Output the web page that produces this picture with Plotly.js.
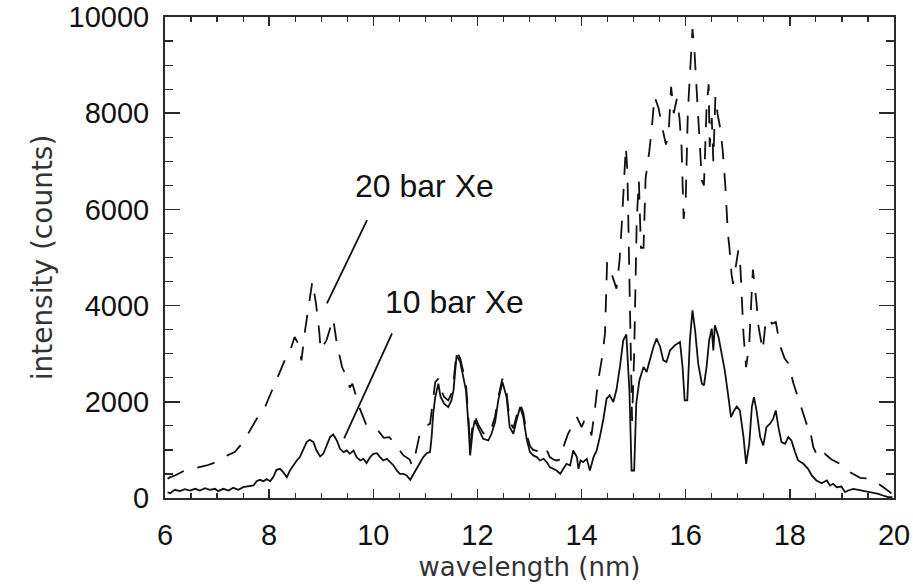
<!DOCTYPE html>
<html>
<head>
<meta charset="utf-8">
<script src="https://cdn.plot.ly/plotly-3.0.1.min.js"></script>
<style>html,body{margin:0;padding:0;background:#fff;}#chart{width:913px;height:585px;}</style>
</head>
<body>
<div id="chart"></div>
<script>
// 10 bar Xe (solid)
const wl10 = [6.05,6.10,6.19,6.29,6.38,6.48,6.58,6.67,6.77,6.86,6.96,7.02,7.12,7.22,7.31,7.41,7.50,7.60,7.70,7.76,7.82,7.89,7.95,8.02,8.08,8.14,8.21,8.27,8.34,8.40,8.46,8.53,8.59,8.66,8.72,8.78,8.85,8.91,8.98,9.04,9.11,9.17,9.23,9.30,9.36,9.43,9.49,9.55,9.62,9.68,9.75,9.81,9.87,9.94,10.00,10.07,10.13,10.19,10.26,10.32,10.39,10.45,10.51,10.58,10.64,10.71,10.77,10.83,10.90,10.96,11.03,11.09,11.12,11.15,11.19,11.22,11.25,11.29,11.36,11.44,11.50,11.54,11.60,11.67,11.73,11.78,11.83,11.86,11.91,11.95,12.02,12.11,12.21,12.27,12.34,12.40,12.48,12.56,12.62,12.69,12.75,12.82,12.88,12.95,13.01,13.07,13.14,13.20,13.27,13.33,13.39,13.46,13.52,13.59,13.65,13.71,13.78,13.84,13.91,13.94,13.98,14.03,14.10,14.16,14.23,14.29,14.35,14.42,14.48,14.54,14.61,14.67,14.74,14.80,14.86,14.89,14.92,14.96,15.01,15.05,15.11,15.19,15.25,15.31,15.38,15.44,15.51,15.57,15.63,15.70,15.79,15.89,15.94,15.98,16.03,16.08,16.13,16.18,16.24,16.31,16.35,16.40,16.45,16.50,16.53,16.56,16.63,16.69,16.75,16.82,16.87,16.93,16.98,17.04,17.11,17.16,17.22,17.27,17.31,17.36,17.43,17.49,17.55,17.62,17.68,17.73,17.78,17.84,17.91,17.97,18.03,18.10,18.16,18.26,18.35,18.42,18.51,18.61,18.71,18.77,18.83,18.90,18.99,19.06,19.12,19.22,19.32,19.41,19.51,19.60,19.70,19.79,19.89,19.97];
const int10 = [120,101,170,142,184,156,191,156,205,170,191,142,191,156,212,170,225,239,260,350,378,350,392,350,434,586,607,538,434,572,676,780,850,1023,1162,1210,1162,988,864,919,1127,1266,1321,1197,1023,954,988,919,988,850,780,815,725,850,919,933,850,780,815,746,676,572,503,503,468,378,489,607,746,850,933,954,1266,1752,2097,2237,2376,2112,1960,1890,2029,2237,2966,2827,2515,2237,1474,885,1405,1613,1440,1231,1197,1335,1578,2029,2411,2098,1474,1335,1613,1890,1682,1197,954,885,850,780,815,746,642,607,572,503,607,711,676,988,850,607,780,746,815,572,850,988,1266,1648,2063,2133,1994,2250,2750,3278,3400,2900,2200,572,572,1960,2445,2723,2620,2862,3140,3313,3140,2862,2827,3070,3174,3243,2723,2029,2029,3278,3902,3486,2792,2376,2341,2723,3278,3521,3070,3590,3347,3000,2653,2098,1682,1821,1900,1821,1266,711,1127,1890,2098,1821,1266,1093,1474,1544,1650,1821,1474,1162,1127,1266,1197,954,780,711,607,468,364,308,364,260,295,225,239,121,156,191,170,156,142,121,87,52,17,17];

// 20 bar Xe (dashed)
const wl20 = [6.05,6.10,6.19,6.29,6.38,6.80,6.93,7.12,7.34,7.50,7.73,7.82,7.92,8.11,8.21,8.30,8.37,8.49,8.56,8.62,8.69,8.75,8.83,8.90,8.96,8.99,9.10,9.23,9.30,9.40,9.49,9.55,9.60,9.73,9.87,10.09,10.20,10.31,10.58,10.70,10.74,10.77,10.90,10.96,11.03,11.09,11.15,11.19,11.25,11.30,11.36,11.44,11.50,11.54,11.60,11.67,11.73,11.78,11.83,11.86,11.91,11.95,12.02,12.11,12.21,12.27,12.34,12.40,12.48,12.56,12.62,12.69,12.75,12.82,12.88,12.95,13.01,13.07,13.14,13.20,13.27,13.33,13.39,13.46,13.52,13.59,13.65,13.74,13.81,13.91,14.00,14.05,14.13,14.19,14.26,14.32,14.39,14.45,14.49,14.58,14.67,14.73,14.77,14.81,14.85,14.88,14.93,14.97,15.01,15.06,15.10,15.14,15.19,15.23,15.30,15.35,15.40,15.48,15.55,15.62,15.67,15.72,15.77,15.83,15.88,15.92,15.96,16.00,16.04,16.09,16.13,16.17,16.21,16.26,16.31,16.35,16.40,16.44,16.46,16.50,16.53,16.57,16.61,16.66,16.71,16.76,16.81,16.84,16.88,16.91,16.95,17.01,17.05,17.08,17.11,17.16,17.22,17.26,17.29,17.36,17.40,17.48,17.54,17.60,17.66,17.73,17.81,17.90,17.97,18.07,18.15,18.21,18.32,18.36,18.45,18.55,18.67,18.80,18.96,19.05,19.19,19.35,19.54,19.65,19.75,19.86,19.95];
const int20 = [400,434,468,517,572,676,725,850,954,1162,1578,1752,1890,2376,2619,2862,2950,3347,3209,2862,3486,3937,4500,4040,3486,3070,3278,3729,3209,2723,2515,2300,2376,1890,1509,1405,1250,1266,885,800,680,711,1370,1440,1509,1544,2000,2410,2480,2250,2100,2030,2170,2400,3050,2900,2620,2380,1600,1050,1550,1700,1520,1350,1300,1450,1700,2100,2480,2180,1600,1450,1700,1950,1780,1300,1080,1000,980,950,1060,1000,850,800,780,800,1058,1335,1474,1682,1474,1600,1578,1300,1890,2445,2896,3417,4900,4650,4353,4943,5650,6365,7300,6800,4000,1600,3000,5800,6600,5200,5200,6650,7200,7700,8350,8100,7700,7350,7550,8550,8000,8300,7900,7300,5800,6200,8000,9100,9750,9250,8500,7300,6600,6500,8100,8600,7300,7900,7000,8350,8000,7700,7230,6500,5500,5200,4650,4450,4700,5150,4800,4200,3400,2720,3200,4100,4750,4050,3550,3070,3730,3700,3624,3659,3173,2900,2800,2380,2100,1890,1543,1560,1058,820,920,800,711,600,520,420,399,330,260,170,100];

const labels = ["20 bar Xe", "10 bar Xe"];
const xTickVals = [6, 8, 10, 12, 14, 16, 18, 20];
const yTickVals = [0, 2000, 4000, 6000, 8000, 10000];

const txt = '#111';
const axisCol = '#2a2a2a';
const tickFont = {family: 'Liberation Sans, Arial, sans-serif', size: 29, color: txt};
const titleFont = {family: 'DejaVu Sans, sans-serif', size: 26, color: '#333'};
const noteFont = {family: 'Liberation Sans, Arial, sans-serif', size: 32, color: txt};

const traces = [
  {x: wl20, y: int20, type: 'scatter', mode: 'lines', name: labels[0],
   line: {color: '#111', width: 1.8, dash: '18px,14px'}},
  {x: wl10, y: int10, type: 'scatter', mode: 'lines', name: labels[1],
   line: {color: '#111', width: 1.8}}
];

const layout = {
  width: 913, height: 585,
  margin: {l: 165, r: 19, t: 17, b: 87},
  paper_bgcolor: '#fff', plot_bgcolor: '#fff',
  showlegend: false,
  xaxis: {
    range: [6, 20], tickvals: xTickVals, ticktext: xTickVals.map(String),
    ticks: 'inside', ticklen: 9, tickwidth: 1.5, tickcolor: axisCol,
    showline: true, linewidth: 2, linecolor: axisCol, mirror: 'allticks',
    showgrid: false, zeroline: false, tickfont: tickFont, ticklabelstandoff: 10,
    minor: {dtick: 0.5, ticks: 'inside', ticklen: 5, tickwidth: 1.2, tickcolor: axisCol, showgrid: false},
    title: {text: 'wavelength (nm)', font: titleFont, standoff: 8}
  },
  yaxis: {
    range: [0, 10000], tickvals: yTickVals, ticktext: yTickVals.map(String),
    ticks: 'inside', ticklen: 15, tickwidth: 1.5, tickcolor: axisCol,
    showline: true, linewidth: 2, linecolor: axisCol, mirror: 'allticks',
    showgrid: false, zeroline: false, tickfont: tickFont, ticklabelstandoff: 8,
    minor: {dtick: 500, ticks: 'inside', ticklen: 8, tickwidth: 1.2, tickcolor: axisCol, showgrid: false},
    title: {text: 'intensity (counts)', font: {family: 'DejaVu Sans, sans-serif', size: 28, color: '#333'}, standoff: 8}
  },
  annotations: [
    {x: 9.61, y: 6480, xref: 'x', yref: 'y', text: labels[0], showarrow: false,
     xanchor: 'left', yanchor: 'middle', font: noteFont},
    {x: 10.19, y: 4070, xref: 'x', yref: 'y', text: labels[1], showarrow: false,
     xanchor: 'left', yanchor: 'middle', font: noteFont}
  ],
  shapes: [
    {type: 'line', xref: 'x', yref: 'y', x0: 9.88, y0: 5775, x1: 9.11, y1: 4048, line: {color: '#111', width: 1.8}},
    {type: 'line', xref: 'x', yref: 'y', x0: 10.36, y0: 3423, x1: 9.44, y1: 1238, line: {color: '#111', width: 1.8}}
  ]
};

Plotly.newPlot('chart', traces, layout, {displayModeBar: false, staticPlot: true});
</script>
</body>
</html>
